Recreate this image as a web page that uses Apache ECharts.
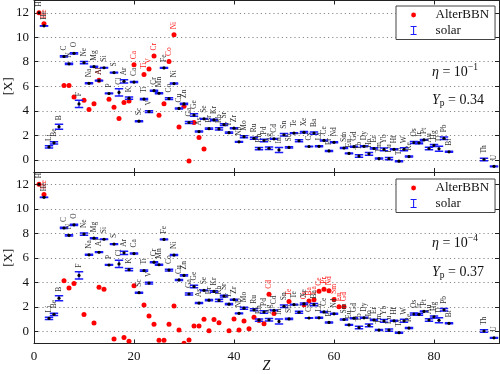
<!DOCTYPE html>
<html><head><meta charset="utf-8">
<script src="https://cdn.jsdelivr.net/npm/echarts@6/dist/echarts.min.js"></script>
<style>html,body{margin:0;padding:0;background:#fff}#c{width:500px;height:374px}</style>
</head><body><div id="c"></div><script>
// ---------- data ----------
const solarZ = [1,2,3,4,5,6,7,8,9,10,11,12,13,14,15,16,17,18,19,20,21,22,23,24,25,26,27,28,29,30,31,32,33,34,35,36,37,38,39,40,41,42,44,45,46,47,48,49,50,51,52,53,54,55,56,57,58,59,60,62,63,64,65,66,67,68,69,70,71,72,73,74,75,76,77,78,79,80,81,82,83,90,92];
const solarNames = ['H','He','Li','Be','B','C','N','O','F','Ne','Na','Mg','Al','Si','P','S','Cl','Ar','K','Ca','Sc','Ti','V','Cr','Mn','Fe','Co','Ni','Cu','Zn','Ga','Ge','As','Se','Br','Kr','Rb','Sr','Y','Zr','Nb','Mo','Ru','Rh','Pd','Ag','Cd','In','Sn','Sb','Te','I','Xe','Cs','Ba','La','Ce','Pr','Nd','Sm','Eu','Gd','Tb','Dy','Ho','Er','Tm','Yb','Lu','Hf','Ta','W','Re','Os','Ir','Pt','Au','Hg','Tl','Pb','Bi','Th','U'];
const solarVal = [12.00,10.93,1.05,1.38,2.70,8.43,7.83,8.69,4.56,7.93,6.24,7.60,6.45,7.51,5.41,7.12,5.50,6.40,5.03,6.34,3.15,4.95,3.93,5.64,5.43,7.50,4.99,6.22,4.19,4.56,3.04,3.65,2.30,3.34,2.54,3.25,2.52,2.87,2.21,2.58,1.46,1.88,1.75,0.91,1.57,0.94,1.71,0.80,2.04,1.01,2.18,1.55,2.24,1.08,2.18,1.10,1.58,0.72,1.42,0.96,0.52,1.07,0.30,1.10,0.48,0.92,0.10,0.84,0.10,0.85,-0.12,0.85,0.26,1.40,1.38,1.62,0.92,1.17,0.90,1.75,0.65,0.02,-0.54];
const solarErr = [0,0.01,0.10,0.09,0.20,0.05,0.05,0.05,0.30,0.10,0.04,0.04,0.03,0.03,0.03,0.03,0.30,0.13,0.09,0.04,0.04,0.05,0.08,0.04,0.04,0.04,0.07,0.04,0.04,0.05,0.09,0.10,0.04,0.03,0.06,0.06,0.10,0.07,0.05,0.04,0.04,0.08,0.08,0.10,0.10,0.10,0.03,0.20,0.10,0.06,0.03,0.08,0.06,0.02,0.09,0.04,0.04,0.04,0.04,0.04,0.04,0.04,0.10,0.04,0.11,0.05,0.04,0.11,0.09,0.04,0.04,0.12,0.04,0.08,0.07,0.03,0.10,0.08,0.20,0.10,0.04,0.10,0.03];

// AlterBBN, eta = 1e-1, Yp = 0.34 (upper panel)
const bbnTopZ = [1,2,6,7,8,10,11,12,13,15,16,17,18,19,20,22,23,24,25,26,27,28,29,30,31,32,33,34];
const bbnTopVal = [12.00,11.11,6.07,6.07,5.12,4.85,4.10,4.58,6.50,4.93,4.28,3.37,4.67,4.80,7.76,6.95,7.40,8.46,3.63,4.58,8.02,10.20,2.68,4.37,-0.10,3.04,1.82,0.87];
const bbnTopLabel = ['','He','','','','','','','Al','','','','','','Ca','Ti','V','Cr','','','Co','Ni','','','','','',''];

// AlterBBN, eta = 1e-4, Yp = 0.37 (lower panel)
const bbnBotZ = [1,2,6,7,8,10,12,13,14,16,18,19,20,22,23,24,25,26,27,28,29,30,31,32,33,34,35,36,37,39,40,41,42,43,44,45,46,47,48,51,54,55,56,57,58,59,60,61,62];
const bbnBotVal = [12.00,11.17,4.13,3.53,3.89,1.36,0.68,3.59,3.43,-0.63,-0.52,-0.82,3.72,2.15,1.25,0.57,-0.73,-0.73,0.57,2.07,0.10,-0.98,-0.71,0.43,0.43,0.98,0.05,0.95,0.70,0.05,1.00,0.10,0.84,0.21,1.14,0.87,0.62,3.02,1.44,2.42,2.17,2.47,2.58,3.26,3.43,3.30,2.60,2.00,2.00];
const bbnBotLabel = ['','He','','','','','','','','','','','','','','','','','','','','','','','','','','','','','','','','','','','','Cd','','Te','Cs','Ba','La','Ce','Pr','Nd','Sm','Eu','Gd'];

const xTicks = [0,20,40,60,80];
const yTicks = [0,2,4,6,8,10,12];
const panelText = [
  {eta:'−1', yp:'0.34'},
  {eta:'−4', yp:'0.37'}
];

// ---------- chart ----------
const SERIF = "'Liberation Serif','DejaVu Serif',serif";
const chart = echarts.init(document.getElementById('c'), null, {renderer:'canvas'});

const grids = [
  {left:34, top:0.5, width:465, height:171.5, outerBoundsMode:'none', containLabel:false},
  {left:34, top:172, width:465, height:171.5, outerBoundsMode:'none', containLabel:false}
];

function xAx(g, pos, labels) {
  return {
    type:'value', gridIndex:g, position:pos, min:0, max:93, interval:20,
    axisLine:{show:true, onZero:false, lineStyle:{color:'#222', width:1}},
    axisTick:{show:true, inside:true, length:4, lineStyle:{color:'#222'}},
    axisLabel:{show:labels, fontFamily:SERIF, fontSize:13, color:'#111', margin:7,
      formatter:v => xTicks.indexOf(v) >= 0 ? String(v) : ''},
    splitLine:{show:false},
    name: labels ? 'Z' : '', nameLocation:'middle', nameGap:16, nameMoveOverlap:false,
    nameTextStyle:{fontFamily:SERIF, fontStyle:'italic', fontSize:14, color:'#111'}
  };
}
function yAx(g, pos, main) {
  return {
    type:'value', gridIndex:g, position:pos, min:-1, max:13, splitNumber:7,
    axisLine:{show:true, onZero:false, lineStyle:{color:'#222', width:1}},
    axisTick:{show:true, inside:true, length:4, lineStyle:{color:'#222'}},
    axisLabel:{show:main, fontFamily:SERIF, fontSize:13, color:'#111', margin:5,
      formatter:v => yTicks.indexOf(v) >= 0 ? String(v) : ''},
    splitLine:{show:main, lineStyle:{color:'#8a8a8a', width:1, type:[1.2,3]}},
    name: main ? '[X]' : '', nameLocation:'middle', nameGap:19, nameRotate:90, nameMoveOverlap:false,
    nameTextStyle:{fontFamily:SERIF, fontSize:13, color:'#111'}
  };
}

function solarRender(params, api) {
  const i = params.dataIndex;
  const z = api.value(0), v = api.value(1), e = api.value(2);
  const c = api.coord([z, v]);
  const t = api.coord([z, v + e]);
  const b = api.coord([z, v - e]);
  const hw = 4.2;
  const kids = [];
  if (e > 0) {
    kids.push({type:'line', shape:{x1:c[0], y1:t[1], x2:c[0], y2:b[1]}, style:{stroke:'#1a1aff', lineWidth:1.2}});
    kids.push({type:'line', shape:{x1:c[0]-hw, y1:t[1], x2:c[0]+hw, y2:t[1]}, style:{stroke:'#1a1aff', lineWidth:1.5}});
    kids.push({type:'line', shape:{x1:c[0]-hw, y1:b[1], x2:c[0]+hw, y2:b[1]}, style:{stroke:'#1a1aff', lineWidth:1.5}});
  }
  kids.push({type:'circle', shape:{cx:c[0], cy:c[1], r:1.6}, style:{fill:'#000'}});
  const ly = Math.min(t[1], c[1] - 2) - 4;
  kids.push({type:'text', x:c[0], y:ly, rotation:Math.PI/2,
    style:{text:solarNames[i], align:'left', verticalAlign:'middle',
      font:"7.5px 'Liberation Serif','DejaVu Serif',serif", fill:'#333'}});
  return {type:'group', children:kids};
}
function bbnRender(labels) {
  return function(params, api) {
    const i = params.dataIndex;
    const c = api.coord([api.value(0), api.value(1)]);
    const kids = [{type:'circle', shape:{cx:c[0], cy:c[1], r:2.5}, style:{fill:'#ff0000'}}];
    if (labels[i]) {
      kids.push({type:'text', x:c[0], y:c[1] - 5.5, rotation:Math.PI/2,
        style:{text:labels[i], align:'left', verticalAlign:'middle',
          font:"7.5px 'Liberation Serif','DejaVu Serif',serif", fill:'#ff1a1a'}});
    }
    return {type:'group', children:kids};
  };
}

const solarData = solarZ.map((z, i) => [z, solarVal[i], solarErr[i]]);
const topData = bbnTopZ.map((z, i) => [z, bbnTopVal[i]]);
const botData = bbnBotZ.map((z, i) => [z, bbnBotVal[i]]);

function legendFor(top) {
  return {
    left:396, top:top, orient:'vertical', itemWidth:6, itemHeight:14, itemGap:2.5,
    padding:[2.5, 6, 2.5, 14],
    backgroundColor:'#fff', borderColor:'#444', borderWidth:1,
    textStyle:{fontFamily:SERIF, fontSize:13, color:'#111', padding:[0,0,0,14]},
    data:[
      {name:'AlterBBN', icon:'circle', itemStyle:{color:'#ff0000', borderColor:'#fff', borderWidth:1.2}},
      {name:'solar', icon:'path://M0,0h8v1.4h-3.3v9.2h3.3v1.4h-8v-1.4h3.3v-9.2h-3.3z', itemStyle:{color:'#1a1aff'}}
    ]
  };
}

function annot(yEta, yYp, p) {
  return [
    {type:'text', x:432, y:yEta, style:{
      text:'{i|η} = 10{s|' + p.eta + '}', verticalAlign:'middle',
      font:"14px " + SERIF, fill:'#111',
      rich:{i:{fontStyle:'italic', fontSize:14, fontFamily:SERIF}, s:{fontSize:9.5, fontFamily:SERIF, padding:[0,0,9,0]}}}},
    {type:'text', x:432, y:yYp, style:{
      text:'{i|Y}{b|p} = ' + p.yp, verticalAlign:'middle',
      font:"14px " + SERIF, fill:'#111',
      rich:{i:{fontStyle:'italic', fontSize:14, fontFamily:SERIF}, b:{fontSize:9.5, fontFamily:SERIF, padding:[7,0,0,0]}}}}
  ];
}

chart.setOption({
  animation:false,
  backgroundColor:'#fff',
  textStyle:{fontFamily:SERIF},
  grid:grids,
  xAxis:[xAx(0,'bottom',false), xAx(0,'top',false), xAx(1,'bottom',true), xAx(1,'top',false)],
  yAxis:[yAx(0,'left',true), yAx(0,'right',false), yAx(1,'left',true), yAx(1,'right',false)],
  legend:[legendFor(6), legendFor(179)],
  series:[
    {name:'AlterBBN', type:'custom', xAxisIndex:0, yAxisIndex:0, clip:true, itemStyle:{color:'#ff0000'}, renderItem:bbnRender(bbnTopLabel), data:topData, z:2},
    {name:'solar', type:'custom', xAxisIndex:0, yAxisIndex:0, clip:true, itemStyle:{color:'#1a1aff'}, renderItem:solarRender, data:solarData, z:3},
    {name:'AlterBBN', type:'custom', xAxisIndex:2, yAxisIndex:2, clip:true, itemStyle:{color:'#ff0000'}, renderItem:bbnRender(bbnBotLabel), data:botData, z:2},
    {name:'solar', type:'custom', xAxisIndex:2, yAxisIndex:2, clip:true, itemStyle:{color:'#1a1aff'}, renderItem:solarRender, data:solarData, z:3}
  ],
  graphic:annot(72, 100, panelText[0]).concat(annot(243, 272, panelText[1]))
});
</script></body></html>
